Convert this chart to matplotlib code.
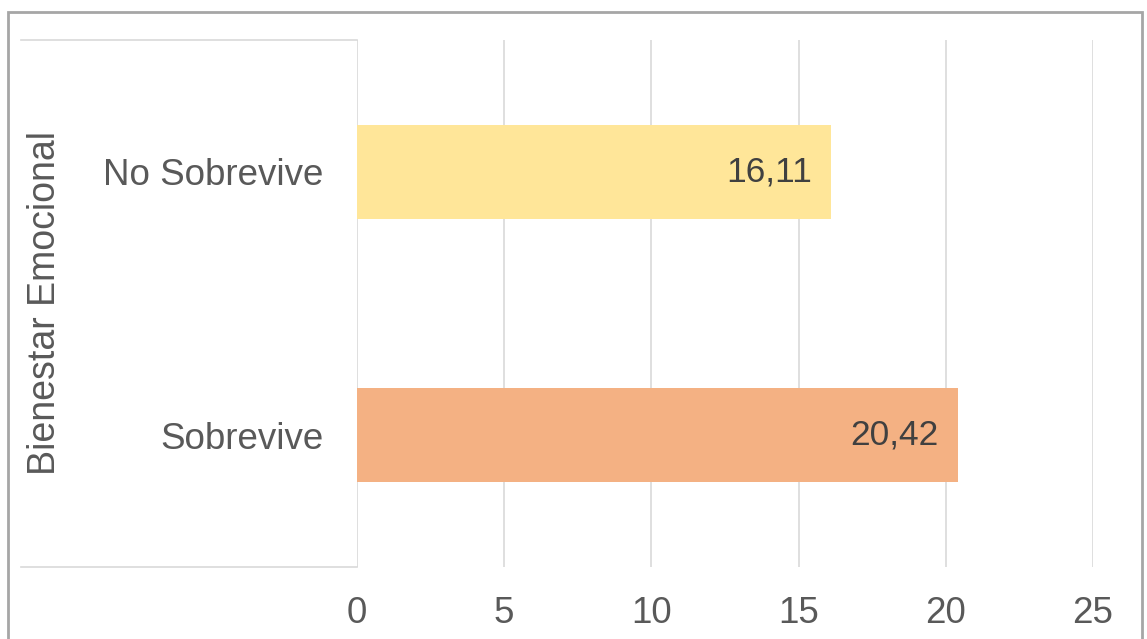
import matplotlib.pyplot as plt
from matplotlib.lines import Line2D
from matplotlib.patches import Rectangle

plt.rcParams['font.family'] = ['Liberation Sans', 'DejaVu Sans']

categories = ['Sobrevive', 'No Sobrevive']
values = [20.42, 16.11]
colors = ['#F4B183', '#FFE699']
value_labels = ['20,42', '16,11']
xticks = [0, 5, 10, 15, 20, 25]
axis_title = 'Bienestar Emocional'

W, H = 1147, 639
fig = plt.figure(figsize=(W / 100, H / 100), dpi=100)
ax = fig.add_axes([357 / W, 1 - 567 / H, (1093 - 357) / W, (567 - 40) / H])

gray = '#595959'
ax.barh(range(len(categories)), values, height=0.355, color=colors, zorder=3)
ax.set_xlim(0, 25)
ax.set_ylim(-0.5, len(categories) - 0.5)
ax.set_xticks(xticks)
ax.set_xticklabels([str(t) for t in xticks], fontsize=26.5, color=gray)
ax.set_yticks(range(len(categories)))
ax.set_yticklabels(categories, fontsize=26.5, color=gray)
ax.tick_params(length=0, pad=21, axis='x')
ax.tick_params(length=0, pad=24, axis='y')
ax.grid(axis='x', color='#D9D9D9', linewidth=1.2, zorder=0)
for s in ax.spines.values():
    s.set_visible(False)

for i, (v, lab) in enumerate(zip(values, value_labels)):
    ax.annotate(lab, (v, i), xytext=(-14, 0), textcoords='offset points',
                ha='right', va='center', fontsize=25.5, color='#404040', zorder=4)

# category area box lines
lc = '#D9D9D9'
fig.add_artist(Line2D([21 / W, 357 / W], [1 - 40 / H, 1 - 40 / H], color=lc, lw=1.2))
fig.add_artist(Line2D([21 / W, 357 / W], [1 - 567 / H, 1 - 567 / H], color=lc, lw=1.2))

fig.text(45 / W, 1 - 303 / H, axis_title, rotation=90, ha='center', va='center',
         fontsize=27, color=gray)

# outer chart border (cut off at bottom)
fig.add_artist(Rectangle((8 / W, -0.05), (1142 - 8) / W, 1 - 12 / H + 0.05,
                         fill=False, edgecolor='#A6A6A6', lw=2))

fig.savefig('out.png', dpi=100)
